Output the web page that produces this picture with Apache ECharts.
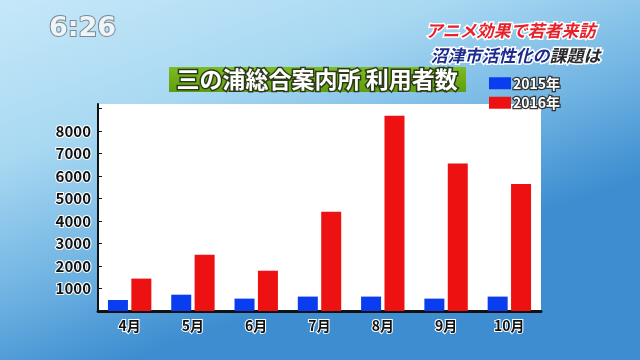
<!DOCTYPE html>
<html>
<head>
<meta charset="utf-8">
<script src="https://cdn.jsdelivr.net/npm/echarts@6/dist/echarts.min.js"></script>
<style>html,body{margin:0;padding:0;}#c{width:640px;height:360px;}</style>
</head>
<body>
<div id="c"></div>
<script>
const categories = ['4月', '5月', '6月', '7月', '8月', '9月', '10月'];
const values2015 = [490, 725, 550, 640, 640, 550, 640];
const values2016 = [1440, 2500, 1790, 4410, 8680, 6560, 5640];
const yTickLabels = [1000, 2000, 3000, 4000, 5000, 6000, 7000, 8000];
const seriesNames = ['2015年', '2016年'];
const chartTitle = '三の浦総合案内所 利用者数';
const clockText = '6:26';
const headline1 = 'アニメ効果で若者来訪';
const headline2a = '沼津市活性化の';
const headline2b = '課題は';

const FONT = '"Noto Sans CJK JP", "Noto Sans", sans-serif';
const chart = echarts.init(document.getElementById('c'), null, {renderer: 'canvas'});

chart.setOption({
  animation: false,
  backgroundColor: {
    type: 'linear', x: 0, y: 0, x2: 0.2, y2: 1,
    colorStops: [
      {offset: 0, color: '#c6e8f9'},
      {offset: 0.4, color: '#a8d8f2'},
      {offset: 0.72, color: '#72b5e3'},
      {offset: 1, color: '#3d8dd0'}
    ]
  },
  graphic: [
    {type: 'rect', left: 169, top: 67, shape: {width: 297, height: 25},
     style: {fill: {type: 'linear', x: 0, y: 0, x2: 0, y2: 1,
       colorStops: [{offset: 0, color: '#7dbb22'}, {offset: 1, color: '#5f9e10'}]}}, z: 5},
    {type: 'text', left: 175, top: 66, z: 6,
     style: {text: chartTitle, font: 'bold 23px ' + FONT, fill: '#ffffff',
       stroke: '#2c3a18', lineWidth: 3, textVerticalAlign: 'top'}},
    {type: 'text', left: 48, top: 14, z: 6,
     style: {text: clockText, font: 'bold 27px "DejaVu Sans", sans-serif', fill: '#eef5f9',
       stroke: '#7d8790', lineWidth: 2}},
    {type: 'text', right: 43, top: 21, z: 6,
     style: {text: headline1, font: 'italic bold 17px ' + FONT, fill: '#e8202a',
       stroke: '#ffffff', lineWidth: 3}},
    {type: 'text', right: 38, top: 46, z: 6,
     style: {text: '{a|' + headline2a + '}{b|' + headline2b + '}',
       rich: {
         a: {font: 'italic bold 17px ' + FONT, fill: '#1c2b8c', stroke: '#ffffff', lineWidth: 3},
         b: {font: 'italic bold 17px ' + FONT, fill: '#2a2a2e', stroke: '#ffffff', lineWidth: 3}
       }}}
  ],
  legend: {
    orient: 'vertical', left: 484, top: 70, itemGap: 3,
    itemWidth: 22, itemHeight: 12, icon: 'rect',
    data: seriesNames,
    itemStyle: {borderWidth: 0},
    textStyle: {fontFamily: FONT, fontWeight: 'bold', fontSize: 14, color: '#ffffff',
      textBorderColor: '#333333', textBorderWidth: 2.5, padding: [0, 0, 0, -3]}
  },
  grid: {left: 98, right: 99, top: 104, bottom: 49, show: true,
    backgroundColor: '#ffffff', borderWidth: 0},
  xAxis: {
    type: 'category', data: categories,
    axisLine: {lineStyle: {color: '#111111', width: 3}},
    axisTick: {show: false},
    axisLabel: {margin: 8, fontFamily: FONT, fontWeight: 'bold', fontSize: 14, color: '#111111',
      textBorderColor: '#ffffff', textBorderWidth: 2}
  },
  yAxis: {
    type: 'value', min: 0, max: 9200, interval: 1000,
    splitLine: {show: false},
    axisLine: {show: true, lineStyle: {color: '#111111', width: 2}},
    axisTick: {show: true, inside: true, length: 4, lineStyle: {color: '#111111', width: 1}},
    axisLabel: {margin: 7, fontFamily: FONT, fontWeight: 'bold', fontSize: 15, color: '#111111',
      textBorderColor: '#ffffff', textBorderWidth: 2, showMaxLabel: false,
      formatter: function (v) { return yTickLabels.indexOf(v) >= 0 ? String(v) : ''; }}
  },
  series: [
    {name: seriesNames[0], type: 'bar', data: values2015, barWidth: 20, barGap: '17%',
     itemStyle: {color: '#0a3cf0'}},
    {name: seriesNames[1], type: 'bar', data: values2016, barWidth: 20,
     itemStyle: {color: '#ee1111'}}
  ]
});
</script>
</body>
</html>
